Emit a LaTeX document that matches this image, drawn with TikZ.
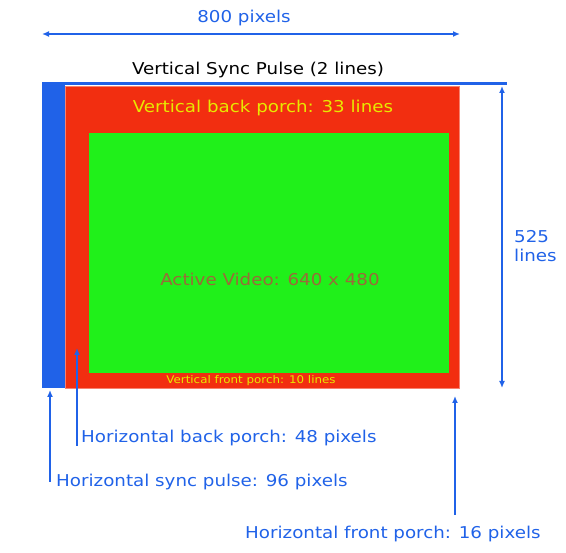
\documentclass[tikz,border=0pt]{standalone}
\usepackage{fontspec}
\setmainfont{DejaVu Sans}[FakeStretch=1.12]
\usetikzlibrary{arrows.meta}

\definecolor{syncblue}{HTML}{2062E8}
\definecolor{porchred}{HTML}{F22E10}
\definecolor{activegreen}{HTML}{20F01A}
\definecolor{porchyellow}{HTML}{E8E800}
\definecolor{activetext}{HTML}{9A6A3A}

\tikzset{
    area/.style={draw=none, inner sep=0pt, anchor=north west},
    txt/.style={inner sep=0pt, font=\fontsize{16.3}{19.5}\selectfont},
    dim/.style={syncblue, line width=1.5pt, {Latex[length=7pt,width=6pt]}-{Latex[length=7pt,width=6pt]}},
    pointer/.style={syncblue, line width=1.5pt, -{Latex[length=7pt,width=6pt]}}
}

\begin{document}
\begin{tikzpicture}[x=1pt, y=-1pt]
    \useasboundingbox (0,0) rectangle (566,553);
    % Frame
    \node[area, fill=syncblue, minimum width=23pt, minimum height=304pt] (Sync) at (42,84) {};
    \node[area, fill=porchred, draw=porchred!60, minimum width=394pt, minimum height=302pt] (Porch) at (65,86) {};
    \node[area, fill=activegreen, minimum width=360pt, minimum height=240pt] (Active) at (89,133) {};
    \draw[syncblue, line width=2.7pt] (42,83.5) -- (507,83.5);
    % Texts inside
    \node[txt, porchyellow] (Back-Porch) at (263,108) {Vertical back porch: 33 lines};
    \node[txt, activetext] (Active-Text) at (270,279) {Active Video: 640 x 480};
    \node[txt, porchyellow, font=\fontsize{10.6}{12}\selectfont] (Front-Porch) at (251,381) {Vertical front porch: 10 lines};
    \node[txt] (Vsync) at (258,70) {Vertical Sync Pulse (2 lines)};
    % Dimensions
    \node[txt, syncblue] (Width) at (244,18) {800 pixels};
    \coordinate (Width-L) at (42,34);
    \coordinate (Width-R) at (460,34);
    \draw[dim] (Width-L) -- (Width-R);
    \coordinate (Height-T) at (502,86);
    \coordinate (Height-B) at (502,388);
    \draw[dim] (Height-T) -- (Height-B);
    \node[txt, syncblue, align=left, anchor=west] (Height) at (514,246) {525\\lines};
    % Pointers
    \node[txt, syncblue, anchor=west] (Hback) at (81,438) {Horizontal back porch: 48 pixels};
    \node[txt, syncblue, anchor=west] (Hsync) at (56,482) {Horizontal sync pulse: 96 pixels};
    \node[txt, syncblue, anchor=west] (Hfront) at (245,534) {Horizontal front porch: 16 pixels};
    \coordinate (Hback-Tip) at (77,348);
    \coordinate (Hsync-Tip) at (50,390);
    \coordinate (Hfront-Tip) at (455,396);
    \draw[pointer] (77,446) -- (Hback-Tip);
    \draw[pointer] (50,482) -- (Hsync-Tip);
    \draw[pointer] (455,515) -- (Hfront-Tip);
\end{tikzpicture}
\end{document}
